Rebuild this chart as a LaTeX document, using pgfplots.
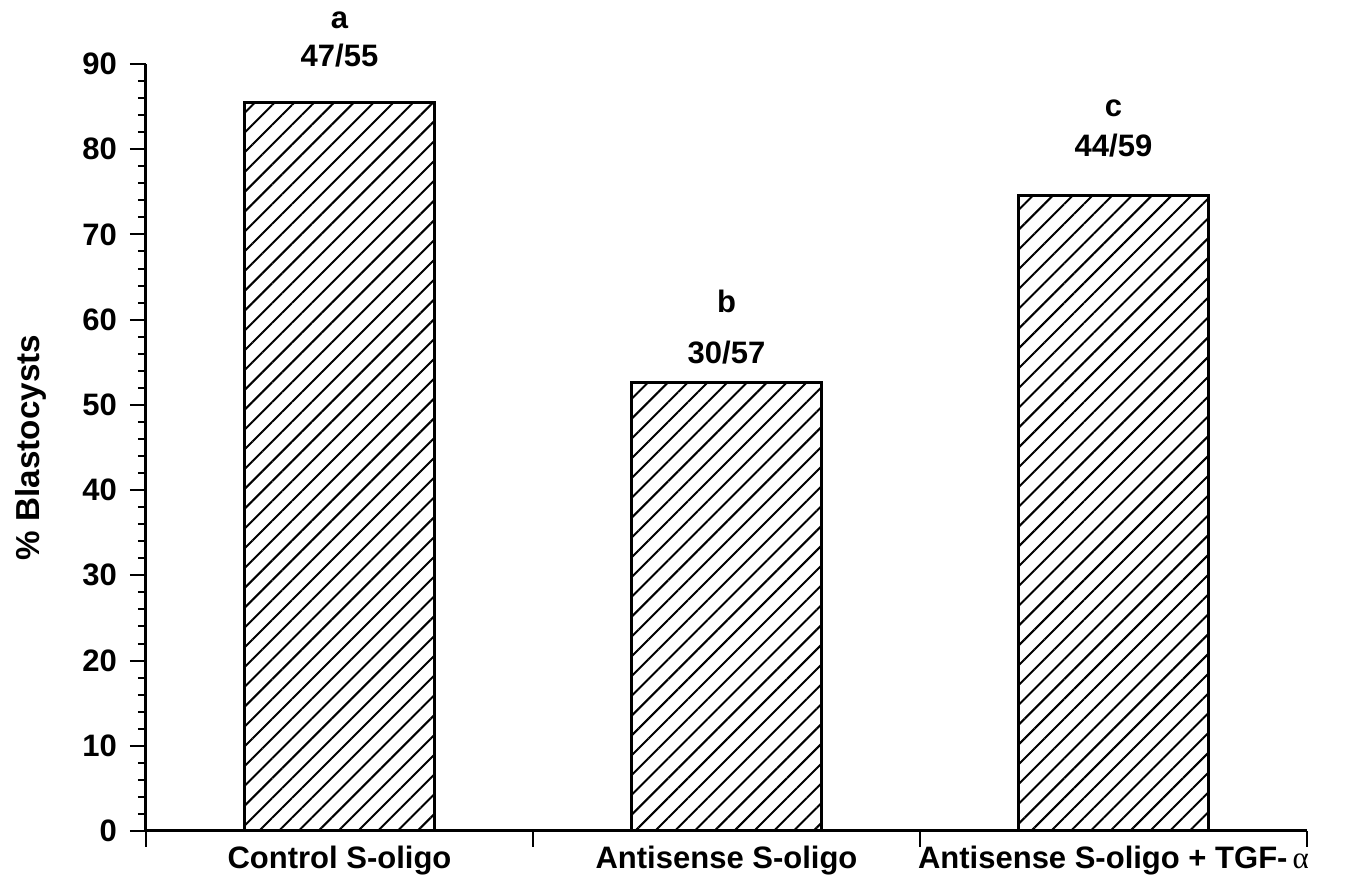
\documentclass[border=0pt]{standalone}
\usepackage{fontspec}
\setmainfont{Liberation Sans}
\newfontfamily\greekfont{Liberation Serif}
\usepackage{pgfplots}
\pgfplotsset{compat=1.18}
\usetikzlibrary{patterns.meta,calc}

\pgfplotstableread{
x y
0 85.45
1 52.63
2 74.58
}\bars

\newcommand{\lbl}{\bfseries\fontsize{15.5}{18}\selectfont}

\begin{document}
\begin{tikzpicture}
\begin{axis}[
  scale only axis,
  width=580.5pt, height=383.5pt,
  xmin=-0.5, xmax=2.5, ymin=0, ymax=90,
  clip=false,
  axis lines*=left,
  axis line style={line width=1.5pt,-},
  tick align=outside,
  major tick length=8pt, minor tick length=4pt,
  tick style={line width=1pt, black},
  ytick={0,10,...,90},
  minor y tick num=4,
  xtick={-0.5,0.5,1.5,2.5},
  xticklabels={},
  extra x ticks={0,1,2},
  extra x tick labels={Control S-oligo, Antisense S-oligo, Antisense S-oligo + TGF-\,{\greekfont\mdseries α}},
  extra x tick style={major tick length=0pt, tick label style={yshift=-4pt}},
  /pgf/number format/assume math mode=true,
  tick label style={font=\lbl},
  ylabel={\% Blastocysts},
  ylabel style={font=\bfseries\fontsize{16.6}{19}\selectfont, at={(axis description cs:-0.099,0.5)}, anchor=center},
  y tick label style={xshift=-3pt},
]
\addplot[ybar, bar width=95pt, draw=black, line width=1.5pt,
  pattern={Lines[angle=45, distance=7pt, line width=1pt]}, pattern color=black]
  table[x=x,y=y] {\bars};
\node[font=\lbl, anchor=base] at (axis cs:0,94.2) {a};
\node[font=\lbl, anchor=base] at (axis cs:0,89.65) {47/55};
\node[font=\lbl, anchor=base] at (axis cs:1,60.8) {b};
\node[font=\lbl, anchor=base] at (axis cs:1,54.9) {30/57};
\node[font=\lbl, anchor=base] at (axis cs:2,83.8) {c};
\node[font=\lbl, anchor=base] at (axis cs:2,79.1) {44/59};
\end{axis}
\pgfresetboundingbox
\path ($(current axis.south west)+(-73pt,-30.5pt)$) rectangle ($(current axis.north east)+(22pt,32pt)$);
\end{tikzpicture}
\end{document}
